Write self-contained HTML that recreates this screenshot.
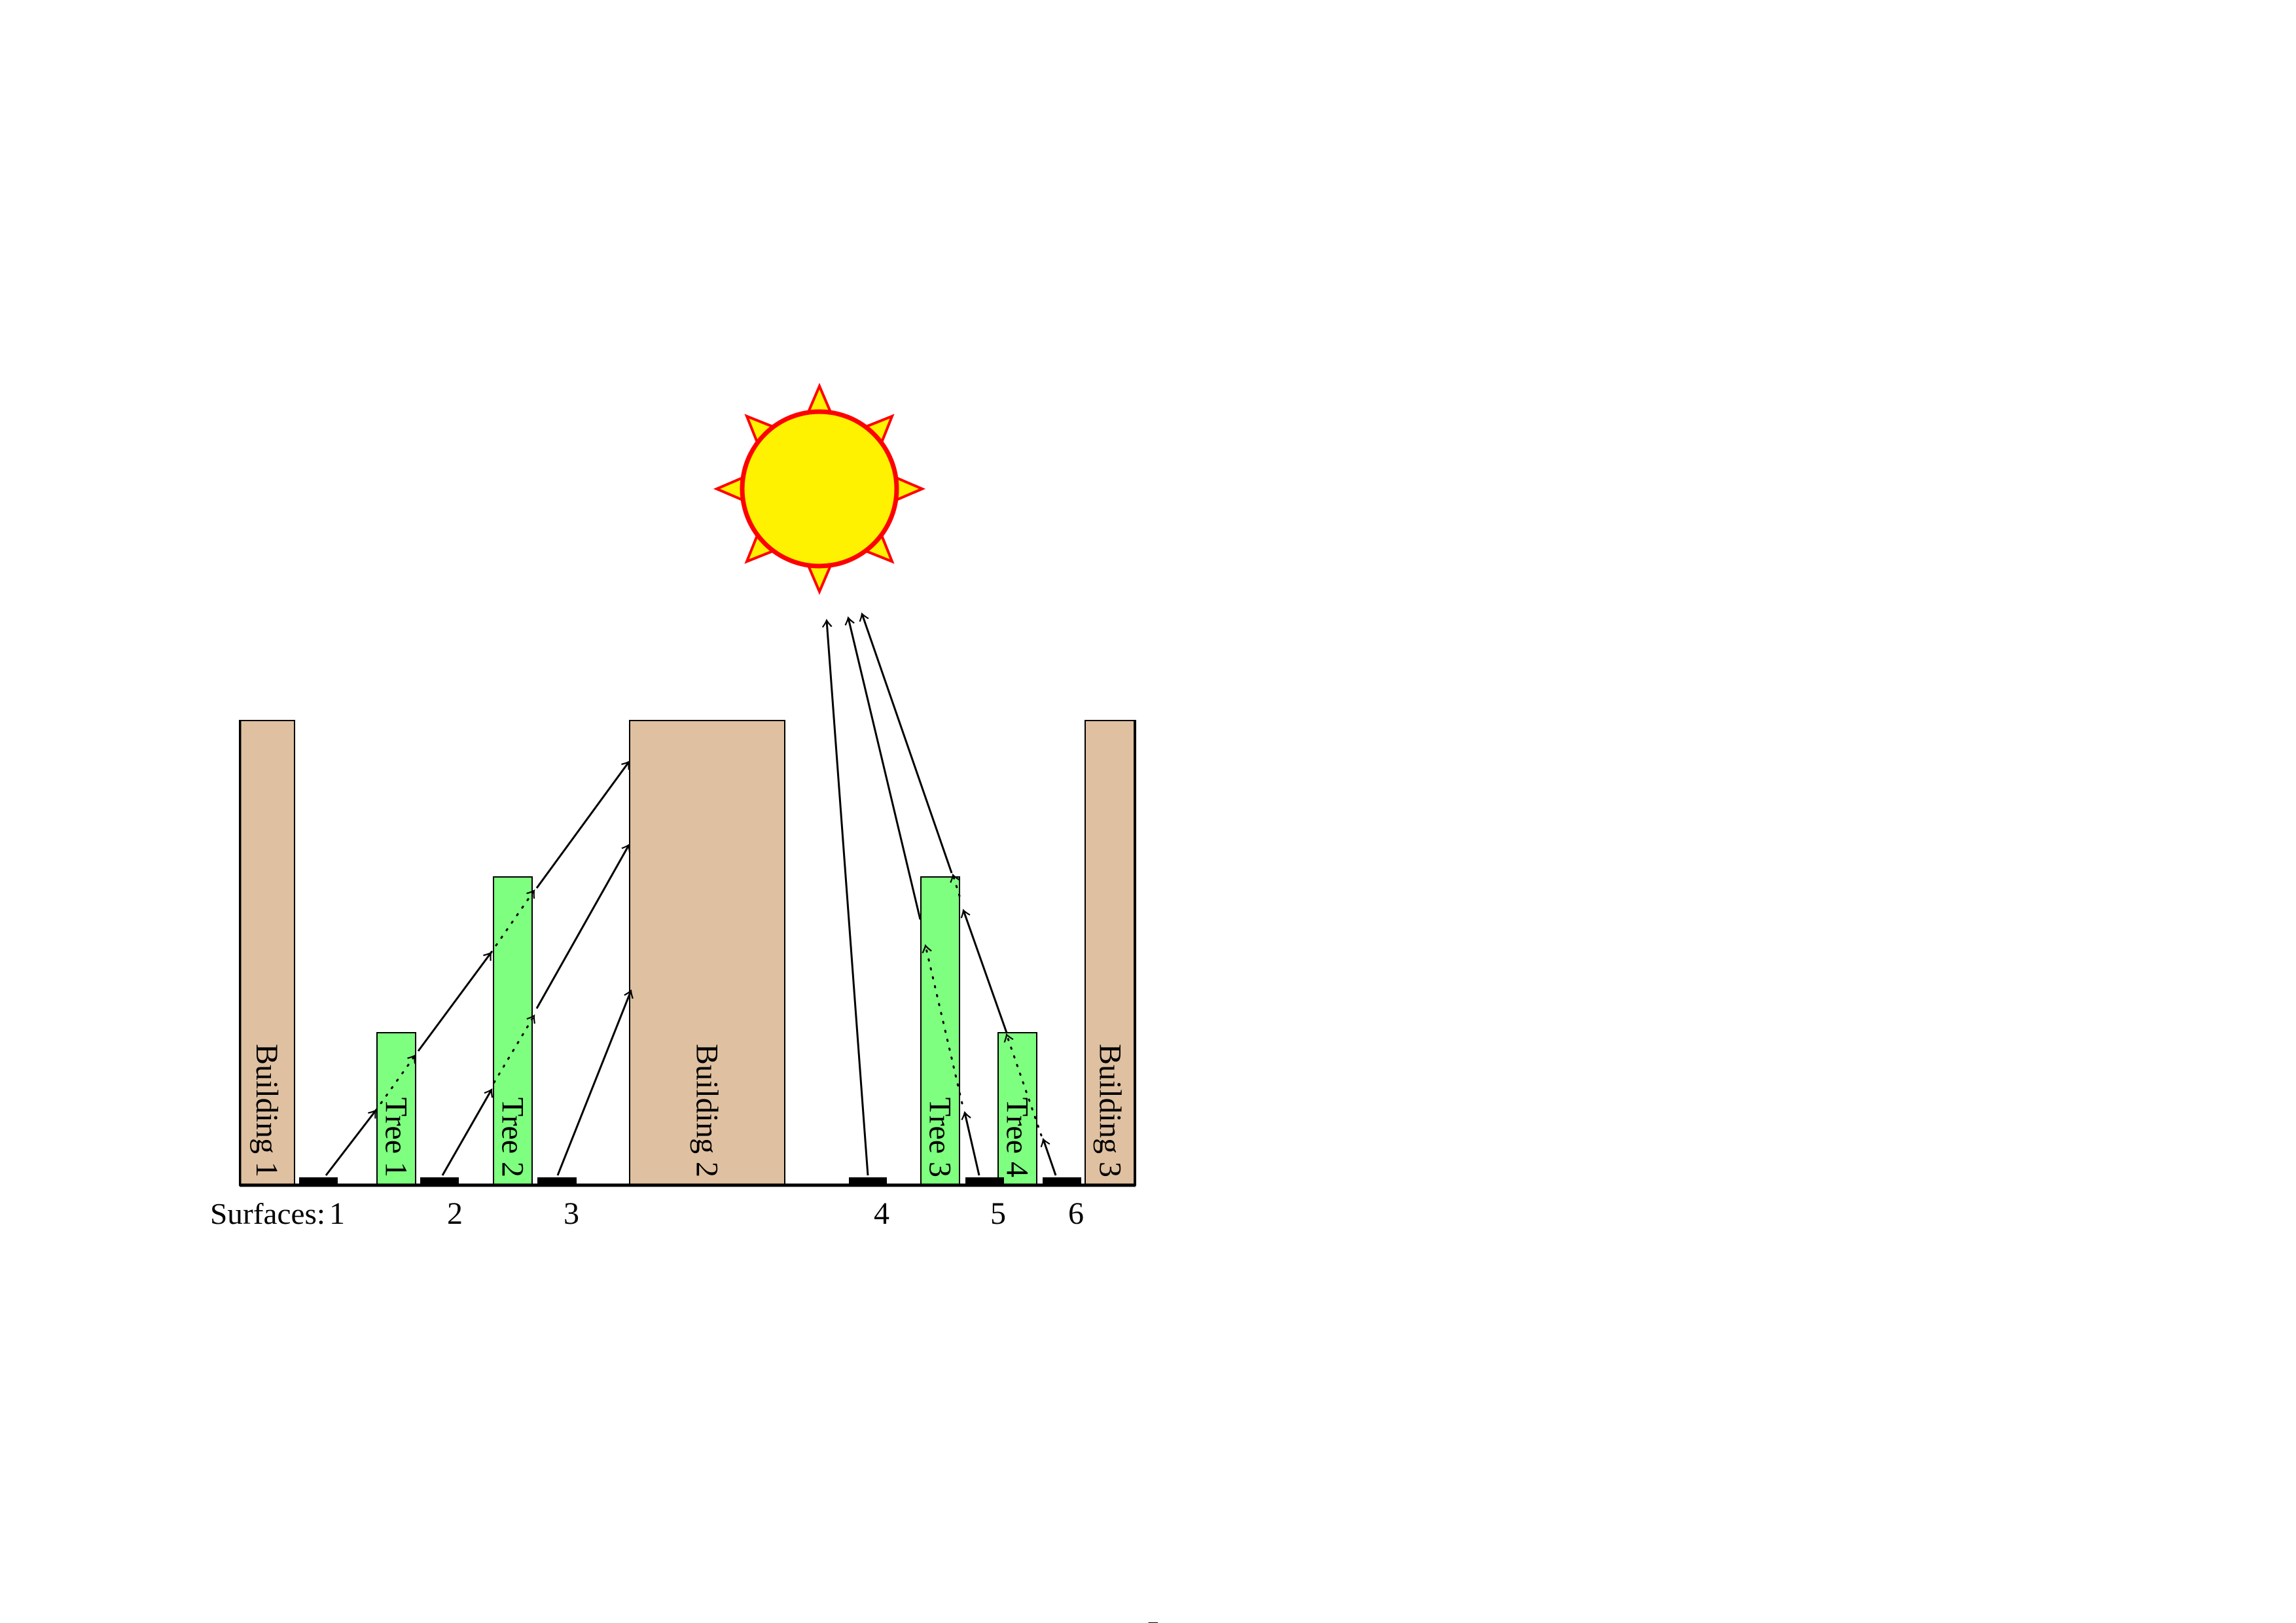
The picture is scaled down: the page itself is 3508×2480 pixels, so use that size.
<!DOCTYPE html>
<html><head><meta charset="utf-8"><style>
html,body{margin:0;padding:0;background:#fff}
svg{display:block}
text{font-family:"Liberation Serif",serif;fill:#000}
</style></head><body>
<svg id="fig" width="3508" height="2480" viewBox="0 0 3508 2480" xmlns="http://www.w3.org/2000/svg">
<defs>
<marker id="ah" markerWidth="20" markerHeight="20" refX="12" refY="10" orient="auto" markerUnits="userSpaceOnUse">
<path d="M2,3 Q8,8 12,10 Q8,12 2,17" fill="none" stroke="#000" stroke-width="2.2"/>
</marker>
</defs>
</svg>
<script>
// scene data
const groundY = 1811;
const buildingNames = ["Building 1","Building 2","Building 3"];
const buildingX = [[366,450],[962,1199],[1658,1735]];
const buildingTop = [1101,1101,1101];
const treeNames = ["Tree 1","Tree 2","Tree 3","Tree 4"];
const treeX = [[576,635],[754,813],[1407,1466],[1525,1584]];
const treeTop = [1578,1340,1340,1578];
const surfaceLabels = ["1","2","3","4","5","6"];
const surfaceX = [[457,516],[642,701],[821,881],[1297,1355],[1475,1534],[1593,1652]];
const surfaceLabelX = [515,695,873,1347,1525,1644];
// ray segments: [x1,y1,x2,y2,dotted]
const raySegments = [
 [498,1796,574,1697,0],[574,1697,634,1613,1],[639,1606,750,1456,0],[750,1456,816,1361,1],[820,1357,961,1164,0],
 [676,1796,751,1665,0],[755,1654,816,1552,1],[820,1541,961,1291,0],
 [852,1796,964,1514,0],
 [1326,1796,1263,948,0],
 [1496,1796,1474,1700,0],[1470,1686,1414,1445,1],[1406,1405,1296,944,0],
 [1613,1796,1594,1741,0],[1591,1735,1538,1581,1],[1538,1578,1472,1391,0],[1466,1369,1456,1337,1],[1454,1334,1317,938,0]
];
const sunCenter = [1252,747];
const sunR = 118;

const NS="http://www.w3.org/2000/svg";
const svg=document.getElementById('fig');
function mk(tag,attrs){const e=document.createElementNS(NS,tag);for(const k in attrs)e.setAttribute(k,attrs[k]);svg.appendChild(e);return e;}

for(let i=0;i<8;i++){
  const a=i*Math.PI/4, tip=157, base=112, hw=0.18;
  const p=[[Math.cos(a)*tip,Math.sin(a)*tip],[Math.cos(a-hw)*base,Math.sin(a-hw)*base],[Math.cos(a+hw)*base,Math.sin(a+hw)*base]]
    .map(q=>(sunCenter[0]+q[0])+","+(sunCenter[1]+q[1])).join(" ");
  const t=mk('polygon',{points:p,fill:'#fff200',stroke:'#ff0000','stroke-width':4});
  
  
}
const sc=mk('circle',{cx:sunCenter[0],cy:sunCenter[1],r:sunR,fill:'#fff200',stroke:'#ff0000','stroke-width':7});



function block(x,top,fill,name,label){
  const r=mk('rect',{x:x[0],y:top,width:x[1]-x[0],height:groundY-top,fill:fill,stroke:'#000','stroke-width':2});
  
  
  const cx=(x[0]+x[1])/2, cy=groundY-12;
  const t=mk('text',{x:0,y:0,'font-size':48,'text-anchor':'end',transform:`translate(${cx-16},${cy}) rotate(90)`});
  t.textContent=label;
  
  
}
buildingNames.forEach((n,i)=>block(buildingX[i],buildingTop[i],'#dfc0a0','building-'+(i+1),n));
treeNames.forEach((n,i)=>block(treeX[i],treeTop[i],'#7fff7f','tree-'+(i+1),n));

const g=mk('line',{x1:366,y1:groundY,x2:1735,y2:groundY,stroke:'#000','stroke-width':5});


const bl=mk('line',{x1:367,y1:1101,x2:367,y2:groundY,stroke:'#000','stroke-width':3});


const br=mk('line',{x1:1734,y1:1101,x2:1734,y2:groundY,stroke:'#000','stroke-width':4});



surfaceX.forEach((s,i)=>{
  const r=mk('rect',{x:s[0],y:groundY-12,width:s[1]-s[0],height:12,fill:'#000'});
  
  
  const t=mk('text',{x:surfaceLabelX[i],y:1870,'font-size':48,'text-anchor':'middle'});
  t.textContent=surfaceLabels[i];
  
  
});
const st=mk('text',{x:321,y:1870,'font-size':46,textLength:176,lengthAdjust:'spacingAndGlyphs'});
st.textContent='Surfaces:';



raySegments.forEach(s=>{
  const l=mk('line',{x1:s[0],y1:s[1],x2:s[2],y2:s[3],stroke:'#000','stroke-width':3,'marker-end':'url(#ah)'});
  if(s[4]){l.setAttribute('stroke-dasharray','2 12');l.setAttribute('stroke-linecap','round');}
  
  
});

const pn=mk('text',{x:1762,y:2508,'font-size':44,'text-anchor':'middle'});
pn.textContent='5';


</script>
</body></html>
